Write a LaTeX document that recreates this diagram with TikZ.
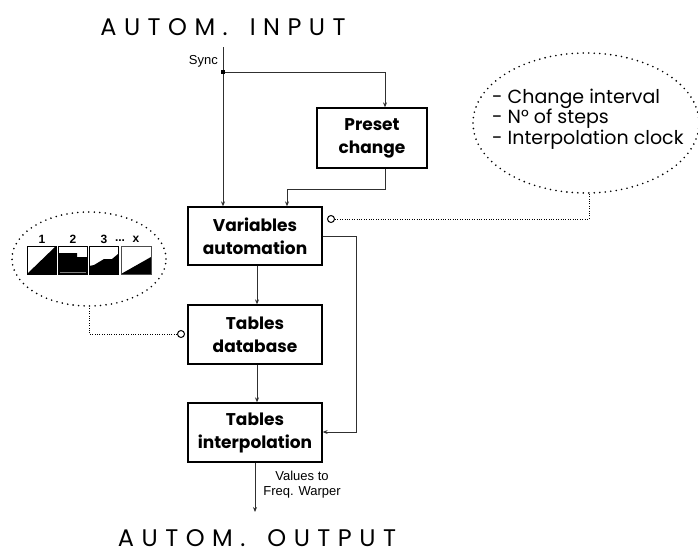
\documentclass[tikz,border=0pt]{standalone}
\usepackage{fontspec}
\setmainfont{Poppins}
\newfontfamily\arialfont{Liberation Sans}
\usetikzlibrary{arrows.meta}
\definecolor{linegray}{HTML}{303030}
% spaced capitals for the two headings
\newcommand{\lgap}{\kern 7.5pt}
\newcommand{\wgap}{\kern 22pt}
\tikzset{
  blockbox/.style={draw=black, line width=1.3pt, fill=white, align=center,
    font=\fontsize{17}{23}\selectfont\bfseries, inner sep=0pt},
  flow/.style={draw=linegray, line width=1pt, -{Stealth[length=5pt,width=4pt]}},
  bubble/.style={draw=black, line width=1.8pt, line cap=round, dash pattern=on 0pt off 5.5pt},
  tether/.style={draw=black, line width=0.8pt, dash pattern=on 0.8pt off 1.6pt},
  pin/.style={circle, draw=black, line width=1pt, fill=white, minimum size=7pt, inner sep=0pt},
  titletext/.style={font=\fontsize{24}{26}\selectfont, inner sep=0pt, anchor=base},
  smalltext/.style={font=\arialfont\fontsize{13}{15}\selectfont, align=left},
  numtext/.style={font=\arialfont\fontsize{12}{12}\selectfont\bfseries, inner sep=0pt}
}
\begin{document}
\begin{tikzpicture}[x=1pt, y=-1pt]
\useasboundingbox (0,0) rectangle (698,552);

% titles
\node[titletext] (inTitle) at (223,35)
  {A\lgap U\lgap T\lgap O\lgap M\lgap .\wgap I\lgap N\lgap P\lgap U\lgap T};
\node[titletext] (outTitle) at (257,546)
  {A\lgap U\lgap T\lgap O\lgap M\lgap .\wgap O\lgap U\lgap T\lgap P\lgap U\lgap T};

% blocks
\node[blockbox, minimum width=110pt, minimum height=60pt] (preset) at (372,138) {Preset\\change};
\node[blockbox, minimum width=134pt, minimum height=58pt] (vars) at (255,236) {Variables\\automation};
\node[blockbox, minimum width=134pt, minimum height=59pt] (tdb) at (255,334.5) {Tables\\database};
\node[blockbox, minimum width=134pt, minimum height=59pt] (tint) at (255,432.5) {Tables\\interpolation};

% sync input
\coordinate (syncTop) at (223,47);
\coordinate (syncJoin) at (223,72);
\coordinate (presetIn) at (385,72);
\node[smalltext, anchor=east, inner sep=0pt] (syncLbl) at (218,61) {Sync};
\draw[flow] (syncTop) -- (syncTop |- vars.north);
\draw[flow] (syncJoin) -- (presetIn) -- (presetIn |- preset.north);
\fill[black] (syncJoin) ++(-2,-2) rectangle ++(4,4);

% preset to variables
\coordinate (presetOut) at (385,168);
\coordinate (presetBend) at (385,189);
\coordinate (varsIn) at (287,189);
\draw[flow] (presetOut |- preset.south) -- (presetBend) -- (varsIn) -- (varsIn |- vars.north);

% main chain
\coordinate (chainA) at (257,0);
\draw[flow] (chainA |- vars.south) -- (chainA |- tdb.north);
\draw[flow] (chainA |- tdb.south) -- (chainA |- tint.north);

% bypass from variables to interpolation
\coordinate (byA) at (356,236);
\coordinate (byB) at (356,432);
\draw[flow] (vars.east |- byA) -- (byA) -- (byB) -- (tint.east |- byB);

% output
\coordinate (outEnd) at (255,512);
\draw[flow] (tint.south -| outEnd) -- (outEnd);
\node[smalltext, align=center, inner sep=0pt] (outLbl) at (302,485) {Values to\\Freq. Warper};

% parameter bubble
\draw[bubble] (586,123) ellipse [x radius=113pt, y radius=70pt];
\node[anchor=west, align=left, inner sep=0pt, font=\fontsize{19}{20.5}\selectfont] (params) at (492,119)
  {- Change interval\\- N\textdegree{} of steps\\- Interpolation clock};
\node[pin] (varsPin) at (331,219) {};
\coordinate (paramFoot) at (589,193);
\draw[tether] (varsPin.east) -- (varsPin.east -| paramFoot) -- (paramFoot);

% curve-shape bubble
\draw[bubble] (89,259) ellipse [x radius=77pt, y radius=47pt];
\node[pin] (tdbPin) at (181,334) {};
\coordinate (shapeFoot) at (89,307);
\draw[tether] (tdbPin.west) -- (tdbPin.west -| shapeFoot) -- (shapeFoot);

% curve icons
\node[numtext] (n1) at (42,239) {1};
\node[numtext] (n2) at (73,239) {2};
\node[numtext] (n3) at (104,239) {3};
\node[numtext] (ndots) at (120,241) {...};
\node[numtext] (nx) at (136,239) {x};

% icon 1: full ramp
\fill[black] (27,274) -- (56,246) -- (56,274) -- cycle;
\draw[black, line width=1pt] (27,246) rectangle (56,274);
% icon 2: steps
\fill[black] (58,274) -- (58,253) -- (77,253) -- (77,257) -- (87,257) -- (87,274) -- cycle;
\draw[black, line width=1pt] (58,246) rectangle (87,274);
\draw[gray, line width=0.6pt] (59.5,272.5) -- (85.5,272.5);
% icon 3: ramp with plateau
\fill[black] (89,274) -- (89,266) -- (94,265) -- (104,259) -- (112,259) -- (118,254) -- (118,274) -- cycle;
\draw[black, line width=1pt] (89,246) rectangle (118,274);
% icon x: shallow ramp
\fill[black] (121,274) -- (151,257) -- (151,274) -- cycle;
\draw[black!70, line width=1pt] (121,246) rectangle (151,274);
\end{tikzpicture}
\end{document}
